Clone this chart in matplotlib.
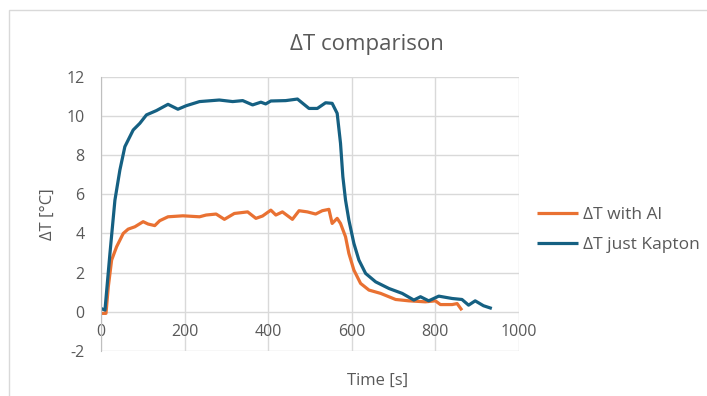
import matplotlib
matplotlib.use("Agg")
import matplotlib.pyplot as plt
from matplotlib.patches import Rectangle

plt.rcParams['font.family'] = ['Open Sans', 'DejaVu Sans']
plt.rcParams['axes.unicode_minus'] = False

# Data
t_kapton = [0, 9.5, 21.4, 33.3, 45.2, 57.1, 77, 92.9, 108.7, 132.5, 160.3, 184, 204, 235.7,
            283, 315, 339, 362.7, 382.5, 394, 406.3, 442, 470, 497.6, 517.5, 537.3, 553,
            561, 565, 573, 578.6, 585, 593, 605, 617, 633, 657, 688.9, 720.6, 748.4,
            764.3, 784, 808, 840, 863.5, 879.4, 895.2, 915, 935]
dt_kapton = [0.17, 0.09, 2.98, 5.7, 7.24, 8.43, 9.28, 9.62, 10.05, 10.27, 10.59, 10.34, 10.52,
             10.73, 10.81, 10.73, 10.78, 10.56, 10.7, 10.61, 10.76, 10.78, 10.86, 10.38,
             10.38, 10.67, 10.64, 10.3, 10.13, 8.6, 6.9, 5.7, 4.68, 3.49, 2.64, 1.96, 1.53,
             1.19, 0.94, 0.6, 0.77, 0.56, 0.8, 0.68, 0.63, 0.34, 0.56, 0.31, 0.17]

t_al = [0, 11.9, 17.5, 25.4, 37.3, 53.2, 65, 81, 100.8, 112.7, 128.6, 140.5, 160.3, 196,
        235.7, 251.6, 275.4, 295.2, 319, 350.8, 370.6, 386.5, 406.3, 418.3, 434, 457.9,
        473.8, 493.7, 513.5, 529.4, 545.2, 553, 565, 573, 585, 593, 605, 621, 641, 669,
        704.8, 736.5, 776, 800, 812, 840, 852, 863.5]
dt_al = [-0.08, -0.08, 1.28, 2.64, 3.32, 4.0, 4.22, 4.34, 4.6, 4.48, 4.4, 4.65, 4.85, 4.9,
         4.85, 4.94, 4.99, 4.72, 5.02, 5.1, 4.77, 4.89, 5.19, 4.94, 5.1, 4.72, 5.16, 5.1,
         4.99, 5.16, 5.23, 4.51, 4.77, 4.51, 3.83, 2.98, 2.13, 1.45, 1.11, 0.94, 0.63,
         0.56, 0.51, 0.56, 0.37, 0.37, 0.42, 0.08]

title = "ΔT comparison"
xlabel = "Time [s]"
ylabel = "ΔT [°C]"
series_names = ["ΔT with Al", "ΔT just Kapton"]
x_ticks = [0, 200, 400, 600, 800, 1000]
y_ticks = [-2, 0, 2, 4, 6, 8, 10, 12]

orange = "#E97132"
blue = "#156082"
txt = "#595959"
grid = "#d9d9d9"

W, H = 707, 396
fig = plt.figure(figsize=(W / 100, H / 100), dpi=100)
fig.patches.append(Rectangle((8.5 / W, -0.1), 1.2, 1 - 9.5 / H + 0.1, transform=fig.transFigure,
                             fill=False, edgecolor=grid, linewidth=1))
ax = fig.add_axes([101 / W, 1 - 351 / H, 418 / W, (351 - 76.7) / H])

ax.plot(t_al, dt_al, color=orange, linewidth=2.3, label=series_names[0],
        solid_joinstyle='round', solid_capstyle='butt')
ax.plot(t_kapton, dt_kapton, color=blue, linewidth=2.3, label=series_names[1],
        solid_joinstyle='round', solid_capstyle='butt')

ax.set_xlim(0, 1000)
ax.set_ylim(-2, 12)
ax.set_xticks(x_ticks)
ax.set_yticks(y_ticks)
ax.grid(True, color=grid, linewidth=1)
ax.set_axisbelow(True)
for name, s in ax.spines.items():
    s.set_visible(False)
ax.spines['bottom'].set_position(('data', 0))
ax.spines['left'].set_visible(True)
ax.spines['left'].set_color("#bfbfbf")
ax.tick_params(length=0, labelsize=11.5, labelcolor=txt)
ax.tick_params(axis='x', pad=9)
ax.tick_params(axis='y', pad=12)

fig.text(347 / W, 1 - 385 / H, xlabel, ha="left", va="baseline", fontsize=12, color=txt)
fig.text(48 / W, 1 - 214 / H, ylabel, ha="center", va="center", rotation=90,
         fontsize=12, color=txt)
fig.text(366.7 / W, 1 - 50 / H, title, ha="center", va="baseline", fontsize=16, color=txt)

fig.legend(loc="center left", bbox_to_anchor=(537 / W, 1 - 230 / H), frameon=False,
           fontsize=12.5, labelcolor=txt, handlelength=2.36, handletextpad=0.29,
           labelspacing=0.8, borderpad=0, borderaxespad=0)

fig.savefig("out.png", dpi=100)
